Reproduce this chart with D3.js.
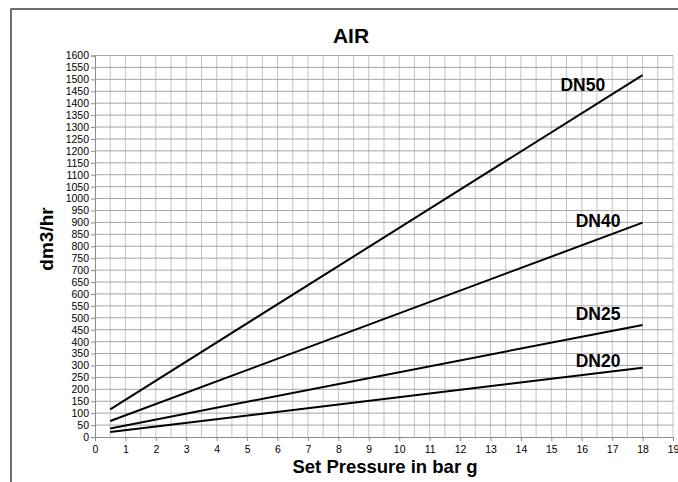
<!DOCTYPE html>
<html>
<head>
<meta charset="utf-8">
<script src="https://cdn.jsdelivr.net/npm/d3@7"></script>
<style>
  body { margin: 0; background: #fff; }
  text { font-family: "Liberation Sans", Arial, sans-serif; }
</style>
</head>
<body>
<div id="graph"></div>
<script>
// data (pressure in bar g -> flow dm3/hr)
var series = ["DN50", "DN40", "DN25", "DN20"];
var pressure = [0.5, 18];
var dn50 = [116, 1518];
var dn40 = [67, 899];
var dn25 = [36, 470];
var dn20 = [21, 290];
var xTicks = d3.range(0, 20, 1);
var yTicks = d3.range(0, 1650, 50);
var labelPos = [[15.3, 1450], [15.8, 880], [15.8, 490], [15.8, 295]];

var values = [dn50, dn40, dn25, dn20];

var W = 678, H = 482;
var margin = { top: 55.5, right: 5, bottom: 45, left: 95 },
    width = 673 - margin.left,
    height = 437 - margin.top;

var svg = d3.select('#graph').append('svg')
    .attr('width', W)
    .attr('height', H)
    .style('display', 'block');

// outer frame (top + left edges visible)
svg.append("path")
    .attr("d", "M11," + H + "V9H" + W)
    .style("fill", "none")
    .style("stroke", "#404040")
    .style("stroke-width", 1.5);

// title
svg.append("text")
    .attr("x", 351)
    .attr("y", 43)
    .attr("text-anchor", "middle")
    .style("font-size", "21px")
    .style("font-weight", "bold")
    .text("AIR");

var g = svg.append("g")
    .attr("transform", "translate(" + margin.left + "," + margin.top + ")");

var x = d3.scaleLinear().domain([0, 19]).range([0, width]);
var y = d3.scaleLinear().domain([0, 1600]).range([height, 0]);

// vertical grid every 0.5 bar
g.append("g")
    .selectAll("line")
    .data(d3.range(0.5, 19.01, 0.5))
    .enter()
    .append("line")
      .attr("x1", function(d){ return x(d) })
      .attr("x2", function(d){ return x(d) })
      .attr("y1", 0)
      .attr("y2", height)
      .style("stroke", "#c4c4c4")
      .style("stroke-width", 1);

// horizontal grid every 50
g.append("g")
    .selectAll("line")
    .data(yTicks.slice(1))
    .enter()
    .append("line")
      .attr("x1", 0)
      .attr("x2", width)
      .attr("y1", function(d){ return y(d) })
      .attr("y2", function(d){ return y(d) })
      .style("stroke", "#a6a6a6")
      .style("stroke-width", 1);

// axes
var yAxis = g.append("g")
    .call(d3.axisLeft(y).tickValues(yTicks).tickFormat(d3.format("d")).tickSize(4).tickPadding(2));
yAxis.selectAll("text")
    .style("font-size", "10.5px")
    .style("fill", "#000");
yAxis.selectAll("line, path").style("stroke", "#8c8c8c");

var xAxis = g.append("g")
    .attr("transform", "translate(0," + height + ")")
    .call(d3.axisBottom(x).tickValues(xTicks).tickFormat(d3.format("d")).tickSize(4).tickPadding(5).tickSizeOuter(0));
xAxis.selectAll("text")
    .style("font-size", "10.5px")
    .style("fill", "#000");
xAxis.selectAll("line, path").style("stroke", "#8c8c8c");

// axis titles
svg.append("text")
    .attr("x", 385)
    .attr("y", 473)
    .attr("text-anchor", "middle")
    .style("font-size", "18.5px")
    .style("font-weight", "bold")
    .text("Set Pressure in bar g");

svg.append("text")
    .attr("transform", "translate(53,239) rotate(-90)")
    .attr("text-anchor", "middle")
    .style("font-size", "19px")
    .style("font-weight", "bold")
    .text("dm3/hr");

// lines
var line = d3.line()
    .x(function(d){ return x(d[0]) })
    .y(function(d){ return y(d[1]) });

series.forEach(function(name, i){
    var pts = pressure.map(function(p, j){ return [p, values[i][j]] });
    g.append("path")
        .datum(pts)
        .attr("d", line)
        .style("fill", "none")
        .style("stroke", "#000")
        .style("stroke-width", 2);

    g.append("text")
        .attr("x", x(labelPos[i][0]))
        .attr("y", y(labelPos[i][1]))
        .style("font-size", "17.5px")
        .style("font-weight", "bold")
        .text(name);
});
</script>
</body>
</html>
